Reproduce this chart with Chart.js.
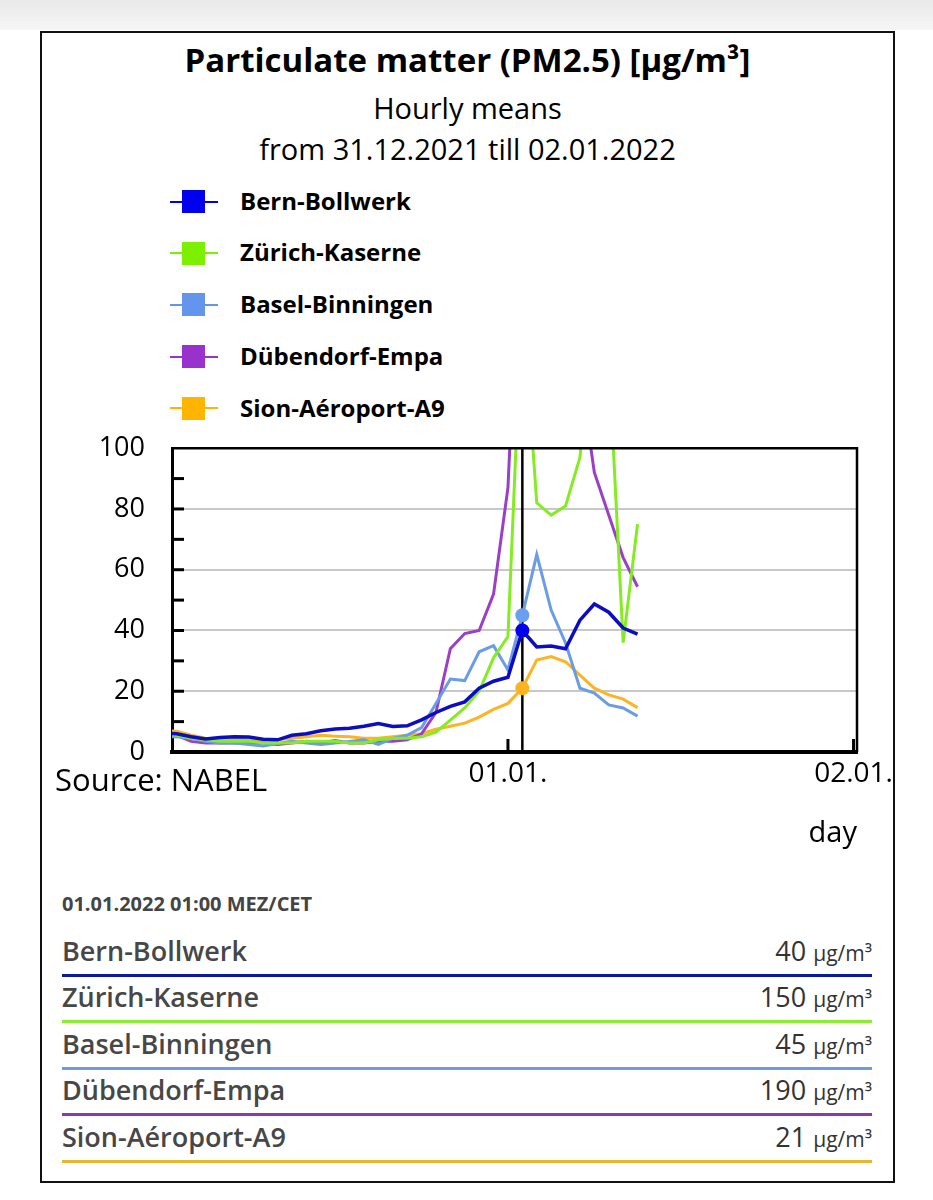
<!DOCTYPE html>
<html>
<head>
<meta charset="utf-8">
<script src="https://cdn.jsdelivr.net/npm/chart.js@4.4.1/dist/chart.umd.min.js"></script>
<style>
  html, body { margin: 0; padding: 0; }
  body { width: 933px; height: 1200px; position: relative; overflow: hidden; background: #fff; font-family: 'Open Sans', 'Noto Sans', sans-serif; color: #000; }
  .topstrip { position: absolute; left: 0; top: 0; width: 933px; height: 30px; background: linear-gradient(#e9e9e9, #f6f6f6); }
  .frame { position: absolute; left: 40px; top: 31px; width: 851px; height: 1148px; border: 2px solid #111; background: #fff; }
  .abs { position: absolute; line-height: 1; white-space: nowrap; }
  .center { left: 40px; width: 855px; text-align: center; }
  #chartBox { position: absolute; left: 42px; top: 405px; width: 851px; height: 465px; overflow: hidden; }
  .leg-line { position: absolute; height: 2px; }
  .leg-sq { position: absolute; width: 23px; height: 23px; }
  .row-name { font-size: 27px; font-weight: 600; color: #474747; }
  .row-val { font-size: 27px; color: #333; text-align: right; }
  .row-val small { font-size: 21px; }
  .uline { position: absolute; left: 62px; width: 810px; height: 3px; }
</style>
</head>
<body>
<div class="topstrip"></div>
<div class="frame"></div>

<div class="abs center" style="top:43px;font-size:33px;font-weight:700;">Particulate matter (PM2.5) [µg/m³]</div>
<div class="abs center" style="top:93px;font-size:29px;">Hourly means</div>
<div class="abs center" style="top:134px;font-size:29px;">from 31.12.2021 till 02.01.2022</div>

<div id="legend"></div>

<div id="chartBox"><canvas id="c" width="900" height="465"></canvas></div>
<div class="abs" style="left:55px;top:764px;font-size:31px;">Source: NABEL</div>

<div id="table"></div>

<script>
// ---------- data ----------
const stations = ['Bern-Bollwerk', 'Zürich-Kaserne', 'Basel-Binningen', 'Dübendorf-Empa', 'Sion-Aéroport-A9'];
// hours relative to 01.01.2022 00:00
const hours = [-24,-23,-22,-21,-20,-19,-18,-17,-16,-15,-14,-13,-12,-11,-10,-9,-8,-7,-6,-5,-4,-3,-2,-1,0,1,2,3,4,5,6,7,8,9];
const bern      = [6.2,6.0,5.0,4.3,4.8,5.0,4.9,4.2,4.0,5.5,6.0,7.0,7.6,7.8,8.5,9.4,8.4,8.6,10.6,13,15,16.5,21,23.3,24.6,40,34.6,34.9,34,43.4,48.7,46,40.8,38.8];
const zurich    = [6,5.5,4.5,4,3.5,3.5,3.5,3,3,3,3.5,3.5,3.5,3,3,4,4.5,4.5,5,6.5,10.5,14.5,20,31,38,150,82,78,81,97,145,130,36,75];
const basel     = [5,5,4.5,3.5,3,3,2.5,2,2.8,3.5,3,2.5,3,3.5,4,2.5,4.5,5.5,8,16,24,23.5,33,35,27,45,65,46.7,35.9,21,19.4,15.5,14.5,11.8];
const dubendorf = [6,5.5,3.5,3,3,3,3,3,2.5,3,3.5,3,3.8,3,3,3.5,3.5,4,6,13,34,39,40,52,87,190,170,150,140,125,92,78,64,54.4];
const sion      = [7.2,6.8,5.5,4.5,4.2,4,4,3.5,4,4.5,5,5.5,5.2,5,4.5,4.5,5,5.5,6,7.5,8.5,9.5,11.5,14,16,21,30.3,31.4,29.7,25.3,21,18.8,17.4,14.6];
const seriesValues = [bern, zurich, basel, dubendorf, sion];
const tickHours = [0, 24];
const tickLabels = ['01.01.', '02.01.'];
const cursorHour = 1;
const cursorLabel = '01.01.2022 01:00 MEZ/CET';
const unit = 'µg/m³';

// ---------- styles ----------
const lineColors  = ['#0c0cc0', '#84ec22', '#6b9ce6', '#9b3fc8', '#fbb424'];
const lineWidths  = [3.5, 3, 3, 3, 3];
const dotColors   = ['#0000ee', '#84ec22', '#6a9ef0', '#9b3fc8', '#fbb31f'];
const legendColors = ['#0000ee', '#7cf000', '#6495ed', '#9932cc', '#ffb400'];
const underlineColors = ['#0a1a9a', '#8aee33', '#6f9be0', '#8b3aa8', '#e6b830'];

// ---------- legend ----------
const legend = document.getElementById('legend');
stations.forEach((name, i) => {
  const cy = 201.5 + i * 51.7;
  legend.insertAdjacentHTML('beforeend',
    `<div class="leg-line" style="left:170px;width:48px;top:${cy-1}px;background:${legendColors[i]}"></div>` +
    `<div class="leg-sq" style="left:182px;top:${cy-11.5}px;background:${legendColors[i]}"></div>` +
    `<div class="abs" style="left:240px;top:${cy+8.5-21.3}px;font-size:24px;font-weight:700;">${name}</div>`);
});

// ---------- chart ----------
const framePlugin = {
  id: 'frame',
  beforeDatasetsDraw(chart) {
    const {ctx, chartArea: a, scales: {x}} = chart;
    const cx = x.getPixelForValue(cursorHour);
    ctx.save();
    ctx.strokeStyle = '#000'; ctx.lineWidth = 2.5;
    ctx.beginPath(); ctx.moveTo(cx, a.top); ctx.lineTo(cx, a.bottom); ctx.stroke();
    ctx.restore();
  },
  afterDraw(chart) {
    const {ctx, chartArea: a, scales: {x, y}} = chart;
    ctx.save();
    ctx.strokeStyle = '#000';
    ctx.lineWidth = 2.5;
    ctx.beginPath(); ctx.moveTo(a.left, a.top); ctx.lineTo(a.right, a.top); ctx.lineTo(a.right, a.bottom); ctx.stroke();
    ctx.lineWidth = 3;
    y.ticks.forEach(t => {
      if (t.value > 0 && t.value < 100) {
        const py = y.getPixelForValue(t.value);
        ctx.beginPath(); ctx.moveTo(a.left, py); ctx.lineTo(a.left + 12, py); ctx.stroke();
      }
    });
    x.ticks.forEach(t => {
      const px = x.getPixelForValue(t.value);
      ctx.beginPath(); ctx.moveTo(px, a.bottom); ctx.lineTo(px, a.bottom - 13); ctx.stroke();
    });
    ctx.restore();
  }
};

Chart.defaults.font.family = "'Open Sans', 'Noto Sans', sans-serif";
Chart.defaults.color = '#000';

new Chart(document.getElementById('c'), {
  type: 'line',
  data: {
    datasets: stations.map((name, i) => ({
      label: name,
      data: hours.map((h, k) => ({x: h, y: seriesValues[i][k]})),
      borderColor: lineColors[i],
      backgroundColor: dotColors[i],
      borderWidth: lineWidths[i],
      pointRadius: c => (c.raw && c.raw.x === cursorHour ? 7 : 0),
      pointBackgroundColor: dotColors[i],
      pointBorderWidth: 0,
      tension: 0,
      fill: false
    }))
  },
  options: {
    responsive: false,
    animation: false,
    devicePixelRatio: 1,
    events: [],
    layout: { padding: { top: 0, right: 85, left: 0, bottom: 0 } },
    plugins: { legend: { display: false }, tooltip: { enabled: false } },
    scales: {
      x: {
        type: 'linear',
        min: -23.33,
        max: 24.24,
        afterBuildTicks: s => { s.ticks = tickHours.map(v => ({value: v})); },
        afterFit: s => { s.height = 118; },
        ticks: {
          autoSkip: false, maxRotation: 0, padding: 5,
          font: { size: 28 },
          callback: v => tickLabels[tickHours.indexOf(v)] ?? ''
        },
        grid: { drawOnChartArea: false, drawTicks: false },
        border: { display: true, color: '#000', width: 4 },
        title: { display: true, text: 'day', align: 'end', font: { size: 29 }, padding: { top: 0, bottom: 19 } }
      },
      y: {
        min: 0, max: 100,
        afterFit: s => { s.width = 130; },
        ticks: {
          stepSize: 10, autoSkip: false, padding: 27,
          font: { size: 27 },
          callback: v => (v % 20 === 0 ? String(v) : '')
        },
        grid: {
          drawTicks: false, lineWidth: 2,
          color: c => ([20, 40, 60, 80].includes(c.tick && c.tick.value) ? '#c8c8c8' : 'rgba(0,0,0,0)')
        },
        border: { display: true, color: '#000', width: 3 }
      }
    }
  },
  plugins: [framePlugin]
});

// ---------- table ----------
const table = document.getElementById('table');
const ci = hours.indexOf(cursorHour);
table.insertAdjacentHTML('beforeend',
  `<div class="abs" style="left:62px;top:894px;font-size:20px;font-weight:700;color:#444;">${cursorLabel}</div>`);
stations.forEach((name, i) => {
  const base = 960.7 + i * 46.5;
  const top = base - 24;
  const val = Math.round(seriesValues[i][ci]);
  table.insertAdjacentHTML('beforeend',
    `<div class="abs row-name" style="left:62px;top:${top}px;">${name}</div>` +
    `<div class="abs row-val" style="right:${933-872}px;top:${top}px;">${val} <small>${unit}</small></div>` +
    `<div class="uline" style="top:${base+13}px;background:${underlineColors[i]}"></div>`);
});
</script>
</body>
</html>
